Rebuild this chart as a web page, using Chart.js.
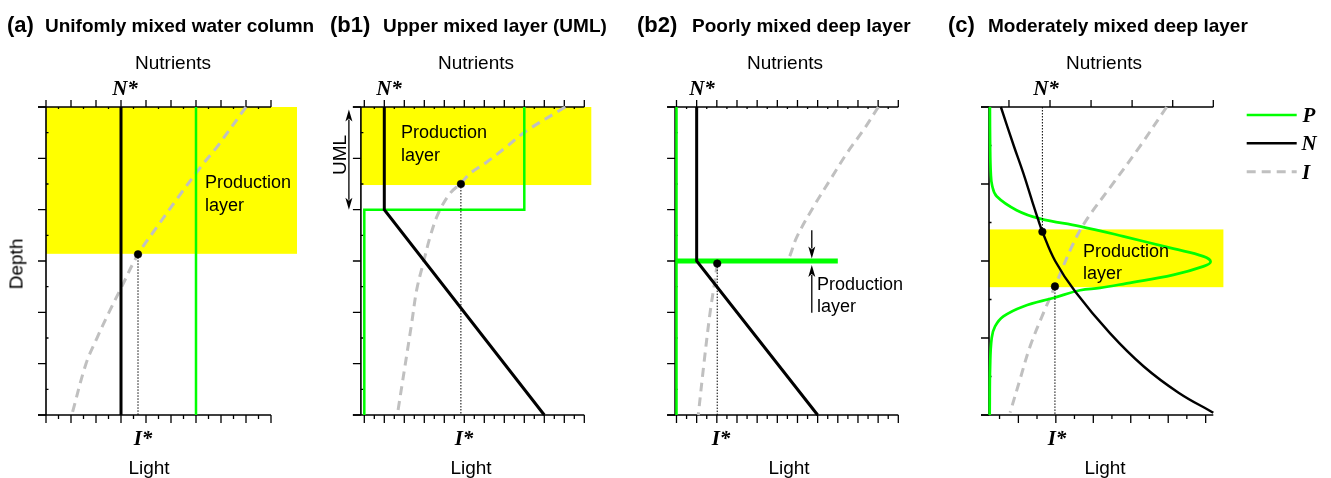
<!DOCTYPE html>
<html>
<head>
<meta charset="utf-8">
<script src="https://cdn.jsdelivr.net/npm/chart.js@4.4.1/dist/chart.umd.min.js"></script>
<style>
body{margin:0;background:#fff;width:1331px;height:478px;position:relative;overflow:hidden;font-family:"Liberation Sans",Arial,sans-serif;}
canvas{position:absolute;top:0;}
.t{position:absolute;white-space:nowrap;line-height:1;color:#000;}
.tn{font-weight:bold;font-size:22px;transform:translateY(-50%);}
.tt{font-weight:bold;font-size:19px;transform:translateY(-50%);}
.lab{font-size:19px;transform:translate(-50%,-50%);}
.rot{font-size:19px;transform:translate(-50%,-50%) rotate(-90deg);}
.pl{font-size:18px;transform:translateY(-50%);}
.sym{font-family:"Liberation Serif","Times New Roman",serif;font-weight:bold;font-style:italic;font-size:21px;transform:translate(-50%,-50%);}
</style>
</head>
<body>
<canvas id="chartA" width="330" height="478" style="left:0px"></canvas>
<canvas id="chartB1" width="310" height="478" style="left:330px"></canvas>
<canvas id="chartB2" width="300" height="478" style="left:640px"></canvas>
<canvas id="chartC" width="391" height="478" style="left:940px"></canvas>

<!-- titles -->
<div class="t tn" style="left:7px;top:25px">(a)</div>
<div class="t tt" style="left:45px;top:25px">Unifomly mixed water column</div>
<div class="t tn" style="left:330px;top:25px">(b1)</div>
<div class="t tt" style="left:383px;top:25px">Upper mixed layer (UML)</div>
<div class="t tn" style="left:637px;top:25px">(b2)</div>
<div class="t tt" style="left:692px;top:25px">Poorly mixed deep layer</div>
<div class="t tn" style="left:948px;top:25px">(c)</div>
<div class="t tt" style="left:988px;top:25px">Moderately mixed deep layer</div>

<!-- axis names -->
<div class="t lab" style="left:173px;top:62px">Nutrients</div>
<div class="t lab" style="left:476px;top:62px">Nutrients</div>
<div class="t lab" style="left:785px;top:62px">Nutrients</div>
<div class="t lab" style="left:1104px;top:62px">Nutrients</div>
<div class="t lab" style="left:149px;top:467px">Light</div>
<div class="t lab" style="left:471px;top:467px">Light</div>
<div class="t lab" style="left:789px;top:467px">Light</div>
<div class="t lab" style="left:1105px;top:467px">Light</div>
<div class="t rot" style="left:16px;top:264px">Depth</div>
<div class="t rot" style="left:339px;top:155px">UML</div>

<!-- N* and I* -->
<div class="t sym" style="left:125px;top:88px">N*</div>
<div class="t sym" style="left:389px;top:88px">N*</div>
<div class="t sym" style="left:702px;top:88px">N*</div>
<div class="t sym" style="left:1046px;top:88px">N*</div>
<div class="t sym" style="left:143px;top:438px">I*</div>
<div class="t sym" style="left:464px;top:438px">I*</div>
<div class="t sym" style="left:721px;top:438px">I*</div>
<div class="t sym" style="left:1057px;top:438px">I*</div>

<!-- production layer notes -->
<div class="t pl" style="left:205px;top:182px">Production</div>
<div class="t pl" style="left:205px;top:205px">layer</div>
<div class="t pl" style="left:401px;top:132px">Production</div>
<div class="t pl" style="left:401px;top:155px">layer</div>
<div class="t pl" style="left:817px;top:284px">Production</div>
<div class="t pl" style="left:817px;top:306px">layer</div>
<div class="t pl" style="left:1083px;top:251px">Production</div>
<div class="t pl" style="left:1083px;top:273px">layer</div>

<!-- legend labels -->
<div class="t sym" style="left:1309px;top:115px">P</div>
<div class="t sym" style="left:1309px;top:143px">N</div>
<div class="t sym" style="left:1306px;top:172px">I</div>

<script>
// axis tick positions (axis units)
var ticks9 = [0,1,2,3,4,5,6,7,8,9];
var ticks11 = [0,1,2,3,4,5,6,7,8,9,10,11];
var half9 = [0.5,1.5,2.5,3.5,4.5,5.5,6.5,7.5,8.5];
var half11 = [0.5,1.5,2.5,3.5,4.5,5.5,6.5,7.5,8.5,9.5,10.5];
var depth6 = [0,1,2,3,4,5,6];
var depth6half = [0.5,1.5,2.5,3.5,4.5,5.5];
var depth4 = [0,1,2,3,4];
var depth4half = [0.5,1.5,2.5,3.5];
var cNutTicks = [0.89,2.72,4.55,6.38,8.19,10];
var cLightTicks = [1.31,2.98,4.65,6.32,7.99,9.66];
var cLightMinor = [0.47,2.14,3.81,5.48,7.15,8.82];

// (a) uniformly mixed
var aN_x = [3,3],  aN_d = [0,6];
var aP_x = [6,6],  aP_d = [0,6];
var aI_x = [8,6.85,6.2,5.3,4.45,3.68,2.96,2.5,2.03,1.6,1.03];
var aI_d = [0,0.77,1.16,1.75,2.33,2.87,3.57,4.02,4.51,5.0,6];
var aStar = [3.68,2.87];

// (b1) upper mixed layer
var b1N_x = [1,1,9],   b1N_d = [0,2,6];
var b1P_x = [8,8,0,0], b1P_d = [0,2,2,6];
var b1I_x = [10.05,8.05,7.13,6.13,5.3,4.82,4.29,3.7,3.29,2.95,2.62,2.37,1.65];
var b1I_d = [0,0.48,0.77,1.07,1.29,1.49,1.68,2.07,2.53,3.04,3.56,4.21,6];
var b1Star = [4.83,1.5];

// (b2) poorly mixed deep layer
var b2N_x = [1,1,7], b2N_d = [0,3,6];
var b2P_x = [0,0],   b2P_d = [0,6];
var b2Pl_x = [0,8],  b2Pl_d = [3,3];
var b2Iup_x = [10.01,9.27,8.45,7.62,6.8,5.97,5.64,5.5];
var b2Iup_d = [0,0.45,0.9,1.42,1.94,2.53,2.88,3.0];
var b2Ilo_x = [2.02,1.91,1.66,1.36,1.08];
var b2Ilo_d = [3.05,3.37,4.02,5.0,6];
var b2Star = [2.02,3.05];

// (c) moderately mixed deep layer
var cN_x = [0.53,1.1,1.53,1.9,2.2,2.38,2.95,3.85,5.4,6.9,8.45,10];
var cN_d = [0,0.5,0.86,1.2,1.47,1.62,2.0,2.4,2.94,3.37,3.71,3.97];
var cP_x = [0.04,0.05,0.08,0.14,0.34,1.23,2.27,4.06,5.99,8.22,9.56,9.88,9.56,8.22,6.14,4.95,4.06,2.87,1.53,0.64,0.27,0.12,0.05,0.03];
var cP_d = [0,0.5,0.86,1.02,1.16,1.34,1.45,1.55,1.68,1.84,1.94,2.01,2.07,2.18,2.29,2.35,2.38,2.48,2.59,2.72,2.85,3.0,3.37,4];
var cI_x = [7.92,6.73,5.54,4.36,3.76,2.94,2.42,1.83,1.38,0.94];
var cI_d = [0,0.51,0.99,1.46,1.77,2.33,2.68,3.11,3.54,3.97];
var cNStar = [2.38,1.62];
var cIStar = [2.94,2.33];

var GREEN = '#00ff00', GREY = '#c0c0c0', YELLOW = '#ffff00';

function pts(xs, ds){
    return xs.map(function(x,i){ return {x:x, y:ds[i]}; });
}
function lineSet(xs, ds, color, width, extra){
    var s = {data: pts(xs,ds), showLine:true, borderColor:color, borderWidth:width,
             pointRadius:0, fill:false, tension:0, clip:false};
    for (var k in extra) s[k] = extra[k];
    return s;
}
function dashI(xs, ds){
    return lineSet(xs, ds, GREY, 3, {borderDash:[9,6], tension:0.35});
}
function dotted(x, d0, d1){
    return lineSet([x,x],[d0,d1],'#000',1,{borderDash:[1.5,1.5]});
}
function dots(list){
    return {data: list.map(function(p){return {x:p[0],y:p[1]};}), showLine:false,
            pointRadius:3.8, pointStyle:'circle', backgroundColor:'#000', borderColor:'#000',
            pointBackgroundColor:'#000', pointBorderColor:'#000', pointBorderWidth:0.5, clip:false};
}

function drawArrow(ctx, x, y0, y1, headStart, headEnd){
    ctx.save();
    ctx.strokeStyle = '#000'; ctx.fillStyle = '#000'; ctx.lineWidth = 1.3;
    var dir = y1 > y0 ? 1 : -1;
    var s0 = headStart ? y0 + dir*10 : y0;
    var s1 = headEnd ? y1 - dir*10 : y1;
    ctx.beginPath(); ctx.moveTo(x, s0); ctx.lineTo(x, s1); ctx.stroke();
    function head(tip, d){
        ctx.beginPath(); ctx.moveTo(x, tip);
        ctx.lineTo(x-3.5, tip - d*12); ctx.lineTo(x, tip - d*9); ctx.lineTo(x+3.5, tip - d*12);
        ctx.closePath(); ctx.fill();
    }
    if (headEnd) head(y1, dir);
    if (headStart) head(y0, -dir);
    ctx.restore();
}

var decoPlugin = {
    id: 'deco',
    beforeDatasetsDraw: function(chart, args, o){
        var ctx = chart.ctx, sx = chart.scales.x, sy = chart.scales.y;
        var px = function(v){ return sx.getPixelForValue(v); };
        var py = function(v){ return sy.getPixelForValue(v); };
        ctx.save();
        if (o.yellow){
            var y = o.yellow;
            ctx.fillStyle = YELLOW;
            ctx.fillRect(px(y[0]), py(y[2]), px(y[1])-px(y[0]), py(y[3])-py(y[2]));
        }
        var L = px(o.leftX), T = py(sy.min), B = py(sy.max), R = px(o.xEnd);
        ctx.strokeStyle = '#000'; ctx.lineWidth = 1.6; ctx.lineCap = 'butt';
        ctx.beginPath();
        ctx.moveTo(L, T); ctx.lineTo(L, B);
        ctx.moveTo(L-8, T); ctx.lineTo(R, T);
        ctx.moveTo(L-8, B); ctx.lineTo(R, B);
        ctx.stroke();
        ctx.lineWidth = 1.3;
        ctx.beginPath();
        o.topMajor.forEach(function(v){ ctx.moveTo(px(v), T); ctx.lineTo(px(v), T-7); });
        (o.topMinor||[]).forEach(function(v){ ctx.moveTo(px(v), T); ctx.lineTo(px(v), T+2); });
        o.botMajor.forEach(function(v){ ctx.moveTo(px(v), B); ctx.lineTo(px(v), B+8); });
        (o.botMinor||[]).forEach(function(v){ ctx.moveTo(px(v), B); ctx.lineTo(px(v), B+4); });
        o.yMajor.forEach(function(v){ ctx.moveTo(L, py(v)); ctx.lineTo(L-8, py(v)); });
        (o.yMinor||[]).forEach(function(v){ ctx.moveTo(L, py(v)); ctx.lineTo(L+2.5, py(v)); });
        ctx.stroke();
        ctx.restore();
    },
    afterDatasetsDraw: function(chart, args, o){
        var ctx = chart.ctx, sx = chart.scales.x, sy = chart.scales.y;
        (o.arrows||[]).forEach(function(a){
            drawArrow(ctx, sx.getPixelForValue(a.x), sy.getPixelForValue(a.d0), sy.getPixelForValue(a.d1), a.start, a.end);
        });
        if (o.legend){
            ctx.save();
            o.legend.forEach(function(it){
                ctx.strokeStyle = it.color; ctx.lineWidth = it.width;
                ctx.setLineDash(it.dash || []);
                ctx.beginPath(); ctx.moveTo(it.x0, it.y); ctx.lineTo(it.x1, it.y); ctx.stroke();
            });
            ctx.restore();
        }
    }
};

// datasets are listed top-most first (Chart.js draws the first dataset last)
function makeChart(id, datasets, pad, xmax, ymax, deco){
    return new Chart(id, {
        type: 'scatter',
        data: {datasets: datasets},
        options: {
            responsive: false,
            animation: false,
            layout: {padding: pad},
            scales: {
                x: {type:'linear', min:0, max:xmax, display:false},
                y: {type:'linear', min:0, max:ymax, reverse:true, display:false}
            },
            plugins: {legend:{display:false}, tooltip:{enabled:false}, deco: deco}
        },
        plugins: [decoPlugin]
    });
}

// (a)
makeChart('chartA', [
    dots([aStar]),
    dotted(aStar[0], aStar[1], 6),
    lineSet(aN_x, aN_d, '#000', 3),
    lineSet(aP_x, aP_d, GREEN, 2.5),
    dashI(aI_x, aI_d)
], {left:46, right:59, top:107, bottom:63}, 9, 6, {
    yellow:[0,10.04,0,2.86], leftX:0, xEnd:9,
    topMajor:ticks9, topMinor:half9, botMajor:ticks9, botMinor:half9,
    yMajor:depth6, yMinor:depth6half
});

// (b1)
makeChart('chartB1', [
    dots([b1Star]),
    dotted(b1Star[0], b1Star[1], 6),
    lineSet(b1N_x, b1N_d, '#000', 3),
    lineSet(b1P_x, b1P_d, GREEN, 2.5),
    dashI(b1I_x, b1I_d)
], {left:34.3, right:55.7, top:107, bottom:63}, 11, 6, {
    yellow:[-0.17,11.35,0,1.52], leftX:-0.17, xEnd:11,
    topMajor:ticks11, topMinor:half11, botMajor:ticks11, botMinor:half11,
    yMajor:depth6, yMinor:depth6half,
    arrows:[{x:-0.77, d0:0.05, d1:2.0, start:true, end:true}]
});

// (b2)
makeChart('chartB2', [
    dots([b2Star]),
    dotted(b2Star[0], b2Star[1], 6),
    lineSet(b2N_x, b2N_d, '#000', 3),
    lineSet(b2Pl_x, b2Pl_d, GREEN, 5),
    lineSet(b2P_x, b2P_d, GREEN, 2.5),
    dashI(b2Iup_x, b2Iup_d),
    dashI(b2Ilo_x, b2Ilo_d)
], {left:36.5, right:41.7, top:107, bottom:63}, 11, 6, {
    leftX:-0.07, xEnd:11,
    topMajor:ticks11, topMinor:half11, botMajor:ticks11, botMinor:half11,
    yMajor:depth6, yMinor:depth6half,
    arrows:[{x:6.71, d0:2.4, d1:2.95, start:false, end:true},
            {x:6.71, d0:4.01, d1:3.08, start:false, end:true}]
});

// (c)
makeChart('chartC', [
    dots([cNStar, cIStar]),
    dotted(cNStar[0], 0, cNStar[1]),
    dotted(cIStar[0], cIStar[1], 4),
    lineSet(cN_x, cN_d, '#000', 2.4, {tension:0.4}),
    lineSet(cP_x, cP_d, GREEN, 2.7, {tension:0.4}),
    dashI(cI_x, cI_d)
], {left:49, right:117.7, top:107, bottom:63}, 10, 4, {
    yellow:[0,10.45,1.59,2.34], leftX:0, xEnd:10,
    topMajor:cNutTicks, botMajor:cLightTicks, botMinor:cLightMinor,
    yMajor:depth4, yMinor:depth4half,
    legend:[
        {x0:306.7, x1:356.7, y:115, color:GREEN, width:2.7},
        {x0:306.7, x1:356.7, y:143.3, color:'#000', width:2.4},
        {x0:306.7, x1:356.7, y:171.7, color:GREY, width:3, dash:[9,6]}
    ]
});
</script>
</body>
</html>
